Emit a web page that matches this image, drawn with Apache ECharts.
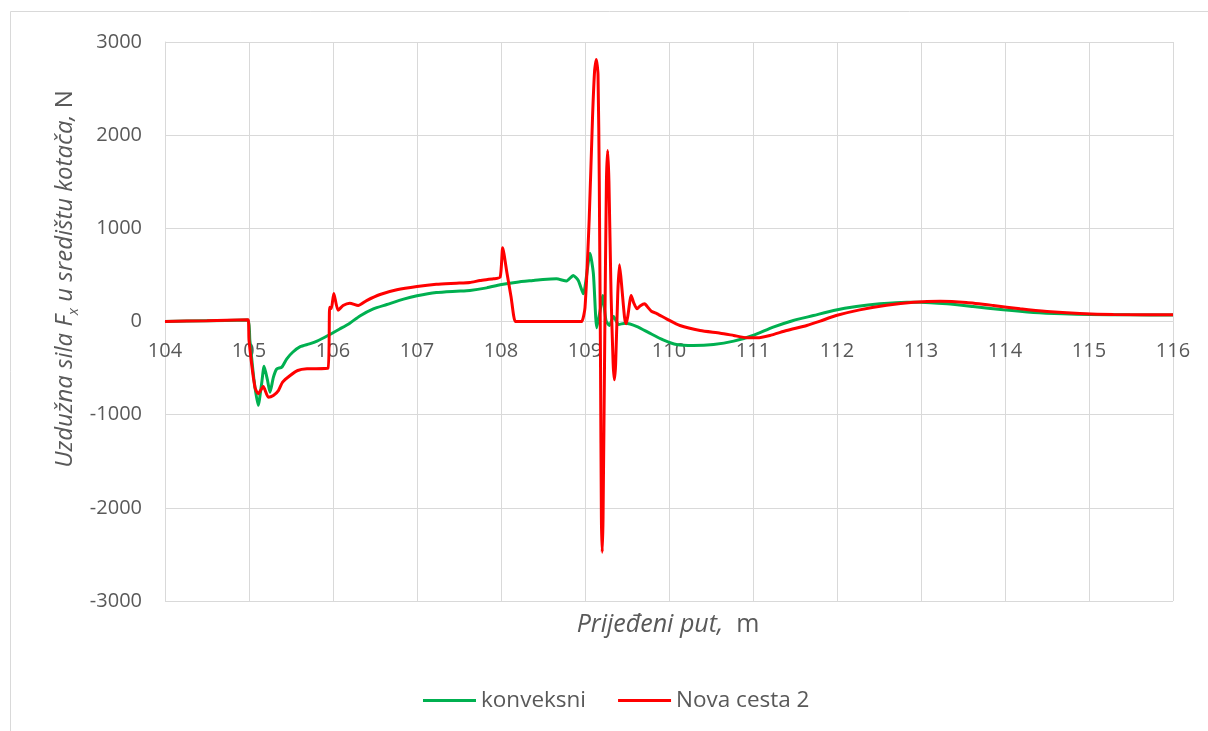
<!DOCTYPE html>
<html><head><meta charset="utf-8">
<script src="https://cdn.jsdelivr.net/npm/echarts@6/dist/echarts.min.js"></script>
<style>html,body{margin:0;padding:0;background:#fff}#c{width:1208px;height:731px}</style>
</head><body><div id="c"></div>
<script>
const xTicks = [104,105,106,107,108,109,110,111,112,113,114,115,116];
const yTicks = [-3000,-2000,-1000,0,1000,2000,3000];
const seriesNames = ['konveksni','Nova cesta 2'];
const seriesColors = ['#00B050','#FF0000'];

const konveksniX = [104.0,104.5,104.98,105.01,105.06,105.11,105.15,105.18,105.22,105.25,105.29,105.33,105.39,105.45,105.52,105.61,105.72,105.81,105.94,106.08,106.2,106.32,106.48,106.64,106.84,107.0,107.23,107.47,107.63,107.83,107.99,108.19,108.38,108.5,108.66,108.78,108.86,108.92,108.98,109.06,109.10,109.14,109.18,109.21,109.25,109.29,109.34,109.40,109.48,109.62,109.77,109.93,110.09,110.29,110.53,110.77,111.0,111.24,111.48,111.72,111.96,112.23,112.51,112.83,112.99,113.31,113.62,113.98,114.34,114.69,115.01,115.49,116.0];
const konveksniY = [0,8,15,-200,-630,-900,-670,-480,-630,-760,-600,-510,-490,-400,-330,-270,-240,-210,-150,-80,-18,60,136,182,240,276,311,325,333,361,394,422,440,451,458,435,494,440,297,733,512,-68,118,279,11,-43,54,-32,-18,-54,-125,-197,-247,-258,-247,-211,-150,-61,11,64,118,161,190,207,207,190,161,125,97,82,75,72,70];

const novaX = [104.0,104.5,104.99,105.0,105.07,105.11,105.17,105.23,105.29,105.35,105.40,105.49,105.58,105.69,105.94,105.96,105.98,106.01,106.06,106.12,106.2,106.30,106.40,106.56,106.76,107.0,107.23,107.47,107.63,107.75,107.91,107.99,108.02,108.07,108.12,108.17,108.22,108.9,108.96,109.00,109.05,109.09,109.115,109.135,109.155,109.17,109.185,109.195,109.205,109.215,109.235,109.255,109.27,109.285,109.31,109.335,109.35,109.365,109.39,109.41,109.43,109.47,109.49,109.51,109.55,109.58,109.62,109.66,109.71,109.75,109.79,109.86,109.97,110.13,110.37,110.61,110.77,110.93,111.05,111.20,111.40,111.64,111.80,111.99,112.27,112.59,112.91,113.23,113.54,113.86,114.18,114.50,114.89,115.29,116.0];
const novaY = [0,8,18,-200,-705,-776,-698,-812,-794,-741,-651,-580,-526,-508,-501,153,140,300,120,172,197,172,225,290,340,376,400,411,419,440,458,476,791,527,264,0,0,0,0,150,1100,2200,2700,2812,2650,1500,-500,-2100,-2476,-2100,-200,1500,1835,1500,300,-450,-626,-450,300,608,450,50,-25,60,279,200,136,170,190,150,111,82,29,-43,-97,-125,-150,-175,-175,-150,-97,-43,4,64,125,175,207,218,204,172,136,107,86,75,72];

const xs = [konveksniX, novaX];
const ys = [konveksniY, novaY];

const FONT = '"Open Sans", "Noto Sans", sans-serif';
const TXT = '#595959';
const GRID = '#d9d9d9';

const chart = echarts.init(document.getElementById('c'), null, {renderer: 'canvas'});
const series = seriesNames.map((name, i) => ({
  name: name,
  type: 'line',
  data: xs[i].map((x, j) => [x, ys[i][j]]),
  showSymbol: false,
  symbol: 'none',
  smooth: 0.2,
  lineStyle: {color: seriesColors[i], width: 3},
  itemStyle: {color: seriesColors[i]},
  emphasis: {disabled: true},
  z: 2 + i
}));

chart.setOption({
  animation: false,
  backgroundColor: '#fff',
  textStyle: {fontFamily: FONT},
  grid: {left: 165, right: 35, top: 42, bottom: 130, containLabel: false},
  xAxis: {
    type: 'value',
    position: 'bottom',
    offset: -279.5,
    min: xTicks[0], max: xTicks[xTicks.length - 1], interval: 1,
    axisLine: {onZero: false, lineStyle: {color: GRID, width: 1}},
    axisTick: {show: false},
    splitLine: {show: true, lineStyle: {color: GRID, width: 1}},
    axisLabel: {color: TXT, fontSize: 20, fontFamily: FONT, margin: 20,
      formatter: v => xTicks.includes(v) ? String(v) : ''}
  },
  yAxis: {
    type: 'value',
    min: yTicks[0], max: yTicks[yTicks.length - 1], interval: 1000,
    axisLine: {show: true, onZero: false, lineStyle: {color: GRID, width: 1}},
    axisTick: {show: false},
    splitLine: {show: true, lineStyle: {color: GRID, width: 1}},
    axisLabel: {color: TXT, fontSize: 20, fontFamily: FONT, margin: 23,
      formatter: v => yTicks.includes(v) ? String(v) : ''}
  },
  legend: {
    data: seriesNames,
    left: 418, top: 684,
    orient: 'horizontal',
    icon: 'rect',
    itemWidth: 53, itemHeight: 3,
    itemGap: 32,
    textStyle: {color: TXT, fontSize: 22.5, fontFamily: FONT},
    selectedMode: false
  },
  graphic: [
    {type: 'rect', silent: true, z: -10,
      shape: {x: 10.5, y: 11.5, width: 1300, height: 900},
      style: {fill: 'none', stroke: GRID, lineWidth: 1}},
    {type: 'text', x: 668, y: 625, silent: true,
      style: {
        text: '{i|Prijeđeni put,}{n|  m}',
        align: 'center', verticalAlign: 'middle',
        textAlign: 'center', textVerticalAlign: 'middle',
        fill: TXT,
        rich: {
          i: {fontFamily: FONT, fontSize: 25, fontStyle: 'italic', fill: TXT, color: TXT},
          n: {fontFamily: FONT, fontSize: 25, fill: TXT, color: TXT}
        }
      }},
    {type: 'text', x: 65, y: 279, rotation: Math.PI / 2, silent: true,
      style: {
        text: '{i|Uzdužna sila F}{s|x}{i| u središtu kotača,}{n| N}',
        align: 'center', verticalAlign: 'middle',
        textAlign: 'center', textVerticalAlign: 'middle',
        fill: TXT,
        rich: {
          i: {fontFamily: FONT, fontSize: 24, fontStyle: 'italic', fill: TXT, color: TXT, lineHeight: 32, verticalAlign: 'middle'},
          s: {fontFamily: FONT, fontSize: 15, fontStyle: 'italic', fill: TXT, color: TXT, lineHeight: 32, verticalAlign: 'bottom'},
          n: {fontFamily: FONT, fontSize: 24, fill: TXT, color: TXT, lineHeight: 32, verticalAlign: 'middle'}
        }
      }}
  ],
  series: series
});
</script>
</body></html>
